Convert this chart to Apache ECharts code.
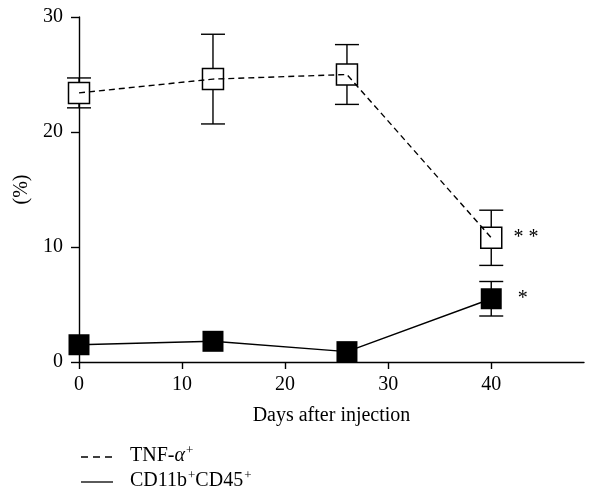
<!DOCTYPE html>
<html><head><meta charset="utf-8">
<script src="https://cdn.jsdelivr.net/npm/echarts@6/dist/echarts.min.js"></script>
<style>html,body{margin:0;padding:0;background:#fff}#c{width:589px;height:492px}</style>
</head><body><div id="c"></div>
<script>
const days = [0, 13, 26, 40];
const tnfMean = [23.4, 24.6, 25.0, 10.8];
const tnfErr = [1.3, 3.9, 2.6, 2.4];
const cdMean = [1.5, 1.8, 0.9, 5.5];
const cdErr = [0, 0, 0, 1.5];
const tnfMarks = ['', '', '', '* *'];
const cdMarks = ['', '', '', '*'];
const xTicks = [0, 10, 20, 30, 40];
const yTicks = [0, 10, 20, 30];

const FONT = 'Liberation Serif';
const FS = 20;
const chart = echarts.init(document.getElementById('c'));

function errData(mean, err) {
  return days.map((d, i) => [d, mean[i] - err[i], mean[i] + err[i], err[i]]);
}
function errRender(params, api) {
  if (!(api.value(3) > 0)) return null;
  const x = api.value(0);
  const lo = api.coord([x, api.value(1)]);
  const hi = api.coord([x, api.value(2)]);
  const hw = 12;
  const st = { stroke: '#000', lineWidth: 1.4 };
  return {
    type: 'group',
    children: [
      { type: 'line', shape: { x1: hi[0], y1: hi[1], x2: lo[0], y2: lo[1] }, style: st },
      { type: 'line', shape: { x1: hi[0] - hw, y1: hi[1], x2: hi[0] + hw, y2: hi[1] }, style: st },
      { type: 'line', shape: { x1: lo[0] - hw, y1: lo[1], x2: lo[0] + hw, y2: lo[1] }, style: st }
    ]
  };
}
function pts(mean, marks, off) {
  return days.map((d, i) => ({
    value: [d, mean[i]],
    label: { show: !!marks[i], formatter: marks[i], position: 'right', distance: off,
             color: '#000', fontFamily: FONT, fontSize: FS }
  }));
}

chart.setOption({
  animation: false,
  grid: { left: 79, right: 5, top: 17, bottom: 130, containLabel: false },
  xAxis: {
    type: 'value', min: 0, max: 49,
    name: 'Days after injection', nameLocation: 'middle', nameGap: 44,
    nameTextStyle: { fontFamily: FONT, fontSize: FS, color: '#000' },
    axisLine: { show: true, onZero: false, lineStyle: { color: '#000', width: 1.4 } },
    axisTick: { show: true, length: 7, customValues: xTicks, lineStyle: { color: '#000', width: 1.4 } },
    axisLabel: { customValues: xTicks, fontFamily: FONT, fontSize: FS, color: '#000', margin: 13 },
    splitLine: { show: false }
  },
  yAxis: {
    type: 'value', min: 0, max: 30, interval: 10,
    name: '(%)', nameLocation: 'middle', nameGap: 47, nameRotate: 90,
    nameTextStyle: { fontFamily: FONT, fontSize: FS, color: '#000' },
    axisLine: { show: true, lineStyle: { color: '#000', width: 1.4 } },
    axisTick: { show: true, length: 8, lineStyle: { color: '#000', width: 1.4 } },
    axisLabel: { fontFamily: FONT, fontSize: FS, color: '#000', margin: 16 },
    splitLine: { show: false }
  },
  series: [
    { type: 'custom', z: 1, renderItem: errRender, data: errData(tnfMean, tnfErr), silent: true },
    { type: 'custom', z: 1, renderItem: errRender, data: errData(cdMean, cdErr), silent: true },
    { type: 'scatter', z: 2, symbol: 'rect', symbolSize: 21,
      itemStyle: { color: '#fff', borderColor: '#000', borderWidth: 1.5, opacity: 1 },
      data: pts(tnfMean, tnfMarks, 11) },
    { type: 'scatter', z: 2, symbol: 'rect', symbolSize: 21,
      itemStyle: { color: '#000', opacity: 1 },
      data: pts(cdMean, cdMarks, 16) },
    { type: 'line', z: 3, showSymbol: false, symbol: 'none',
      lineStyle: { color: '#000', width: 1.4, type: [6, 4] },
      data: days.map((d, i) => [d, tnfMean[i]]) },
    { type: 'line', z: 3, showSymbol: false, symbol: 'none',
      lineStyle: { color: '#000', width: 1.4 },
      data: days.map((d, i) => [d, cdMean[i]]) }
  ],
  graphic: [
    { type: 'line', shape: { x1: 81, y1: 457, x2: 113, y2: 457 },
      style: { stroke: '#000', lineWidth: 1.3, lineDash: [7, 5] } },
    { type: 'line', shape: { x1: 81, y1: 482, x2: 113, y2: 482 },
      style: { stroke: '#000', lineWidth: 1.3 } },
    { type: 'text', x: 130, y: 456,
      style: { text: '{n|TNF-}{g|α}{s|+}', verticalAlign: 'middle',
        rich: { n: { fontFamily: FONT, fontSize: FS, fill: '#000' },
                g: { fontFamily: FONT, fontSize: FS, fontStyle: 'italic', fill: '#000' },
                s: { fontFamily: FONT, fontSize: 13, fill: '#000', verticalAlign: 'top', padding: [0, 0, 10, 1] } } } },
    { type: 'text', x: 130, y: 481,
      style: { text: '{n|CD11b}{s|+}{n|CD45}{s|+}', verticalAlign: 'middle',
        rich: { n: { fontFamily: FONT, fontSize: FS, fill: '#000' },
                s: { fontFamily: FONT, fontSize: 13, fill: '#000', verticalAlign: 'top', padding: [0, 0, 10, 1] } } } }
  ]
});
</script>
</body></html>
